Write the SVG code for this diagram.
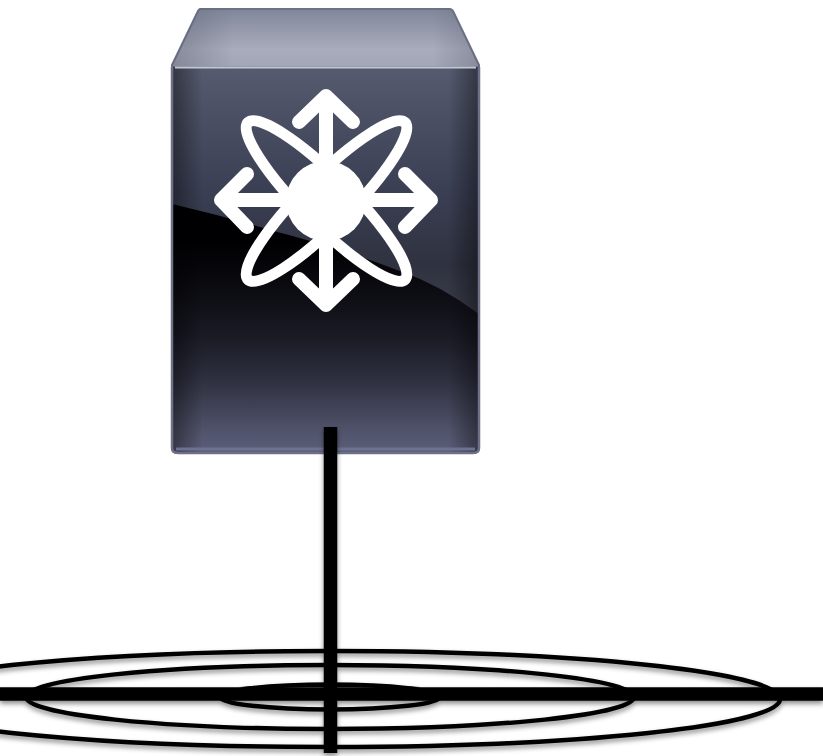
<svg xmlns="http://www.w3.org/2000/svg" width="823" height="756" viewBox="0 0 823 756">
<defs>
<linearGradient id="top" x1="0" y1="0" x2="0" y2="1"><stop offset="0" stop-color="#82869a"/><stop offset="0.7" stop-color="#a8acbc"/><stop offset="1" stop-color="#a2a6b6"/></linearGradient>
<linearGradient id="topSide" x1="0" y1="0" x2="1" y2="0"><stop offset="0" stop-color="#555a6c" stop-opacity=".4"/><stop offset=".2" stop-color="#555a6c" stop-opacity="0"/><stop offset=".85" stop-color="#555a6c" stop-opacity="0"/><stop offset="1" stop-color="#555a6c" stop-opacity=".35"/></linearGradient>
<linearGradient id="base" x1="0" y1="0" x2="0" y2="1"><stop offset="0" stop-color="#000"/><stop offset=".45" stop-color="#000002"/><stop offset=".58" stop-color="#0c0c12"/><stop offset=".7" stop-color="#1a1b25"/><stop offset=".8" stop-color="#2c2e3d"/><stop offset=".94" stop-color="#50536a"/><stop offset="1" stop-color="#5c5f7a"/></linearGradient>
<linearGradient id="gloss" x1="0" y1="0" x2="0" y2="1"><stop offset="0" stop-color="#565b70"/><stop offset=".15" stop-color="#4d5266"/><stop offset=".5" stop-color="#3b3f54"/><stop offset=".8" stop-color="#2f323f"/><stop offset="1" stop-color="#3a3c49"/></linearGradient>
<linearGradient id="edgeL" x1="0" y1="0" x2="1" y2="0"><stop offset="0" stop-color="#000" stop-opacity=".4"/><stop offset=".1" stop-color="#000" stop-opacity="0"/><stop offset=".9" stop-color="#000" stop-opacity="0"/><stop offset="1" stop-color="#000" stop-opacity=".4"/></linearGradient>
<filter id="shadow" x="-5%" y="-20%" width="110%" height="160%"><feDropShadow dx="0" dy="3" stdDeviation="2.5" flood-color="#000" flood-opacity=".45"/></filter>
<filter id="soft" x="-5%" y="-5%" width="110%" height="110%"><feGaussianBlur stdDeviation="0.7"/></filter>
<style>
.ring{fill:none;stroke:#000;stroke-width:4.5}
.bar{stroke:#000;stroke-width:13.5;fill:none}
.icon{fill:none;stroke:#fff;stroke-width:14;stroke-linejoin:round;stroke-linecap:round}
.petal{fill:none;stroke:#fff;stroke-width:11}
</style>
</defs>
<rect width="823" height="756" fill="#fff"/>
<g id="node-switch">
<path d="M200 9H450Q452 9 453 11L479 65V67H172V65L198 11Q199 9 200 9Z" fill="url(#top)" stroke="#6d7288" stroke-width="2"/>
<path d="M199 8H451L479 65V67H172V65Z" fill="url(#topSide)"/>
<path d="M172 67H479V448Q479 454 473 454H178Q172 454 172 448Z" fill="url(#base)"/>
<path d="M172 67H479V314Q440 285 400 271Q340 248 270 230Q220 215 172 204Z" fill="url(#gloss)"/>
<path d="M172 67H479V448Q479 454 473 454H178Q172 454 172 448Z" fill="url(#edgeL)"/>
<path d="M172 67V448Q172 453 178 453H473Q479 453 479 448V67" fill="none" stroke="#6d7086" stroke-width="2.500"/>
<path d="M176 449H475" stroke="#6e7190" stroke-width="3"/>
<path d="M175 67.500H476" stroke="#c3c7d2" stroke-width="2"/>
<g id="switch-glyph" filter="url(#soft)">
<path class="icon" d="M326 200V96M299 122L326 96L353 122"/>
<path class="icon" d="M326 200V305M299 279L326 305L353 279"/>
<path class="icon" d="M326 200H221M247 174L221 200L247 227"/>
<path class="icon" d="M326 200H431M405 174L431 200L405 227"/>
<ellipse class="petal" cx="326.500" cy="201" rx="111" ry="24" transform="rotate(45 326.500 201)"/>
<ellipse class="petal" cx="326.500" cy="201" rx="111" ry="24" transform="rotate(-45 326.500 201)"/>
<circle cx="326" cy="201" r="40" fill="#fff"/>
</g>
</g>
<g id="connectors" filter="url(#shadow)">
<ellipse class="ring" cx="330" cy="699" rx="450" ry="48"/>
<ellipse class="ring" cx="330" cy="697" rx="304" ry="32"/>
<ellipse class="ring" cx="330" cy="697" rx="110" ry="12.500"/>
<path d="M240 687Q330 680 420 687Z" fill="#000"/>
<path class="bar" d="M0 694H823"/>
<path class="bar" d="M330.500 427V753"/>
</g>
</svg>
